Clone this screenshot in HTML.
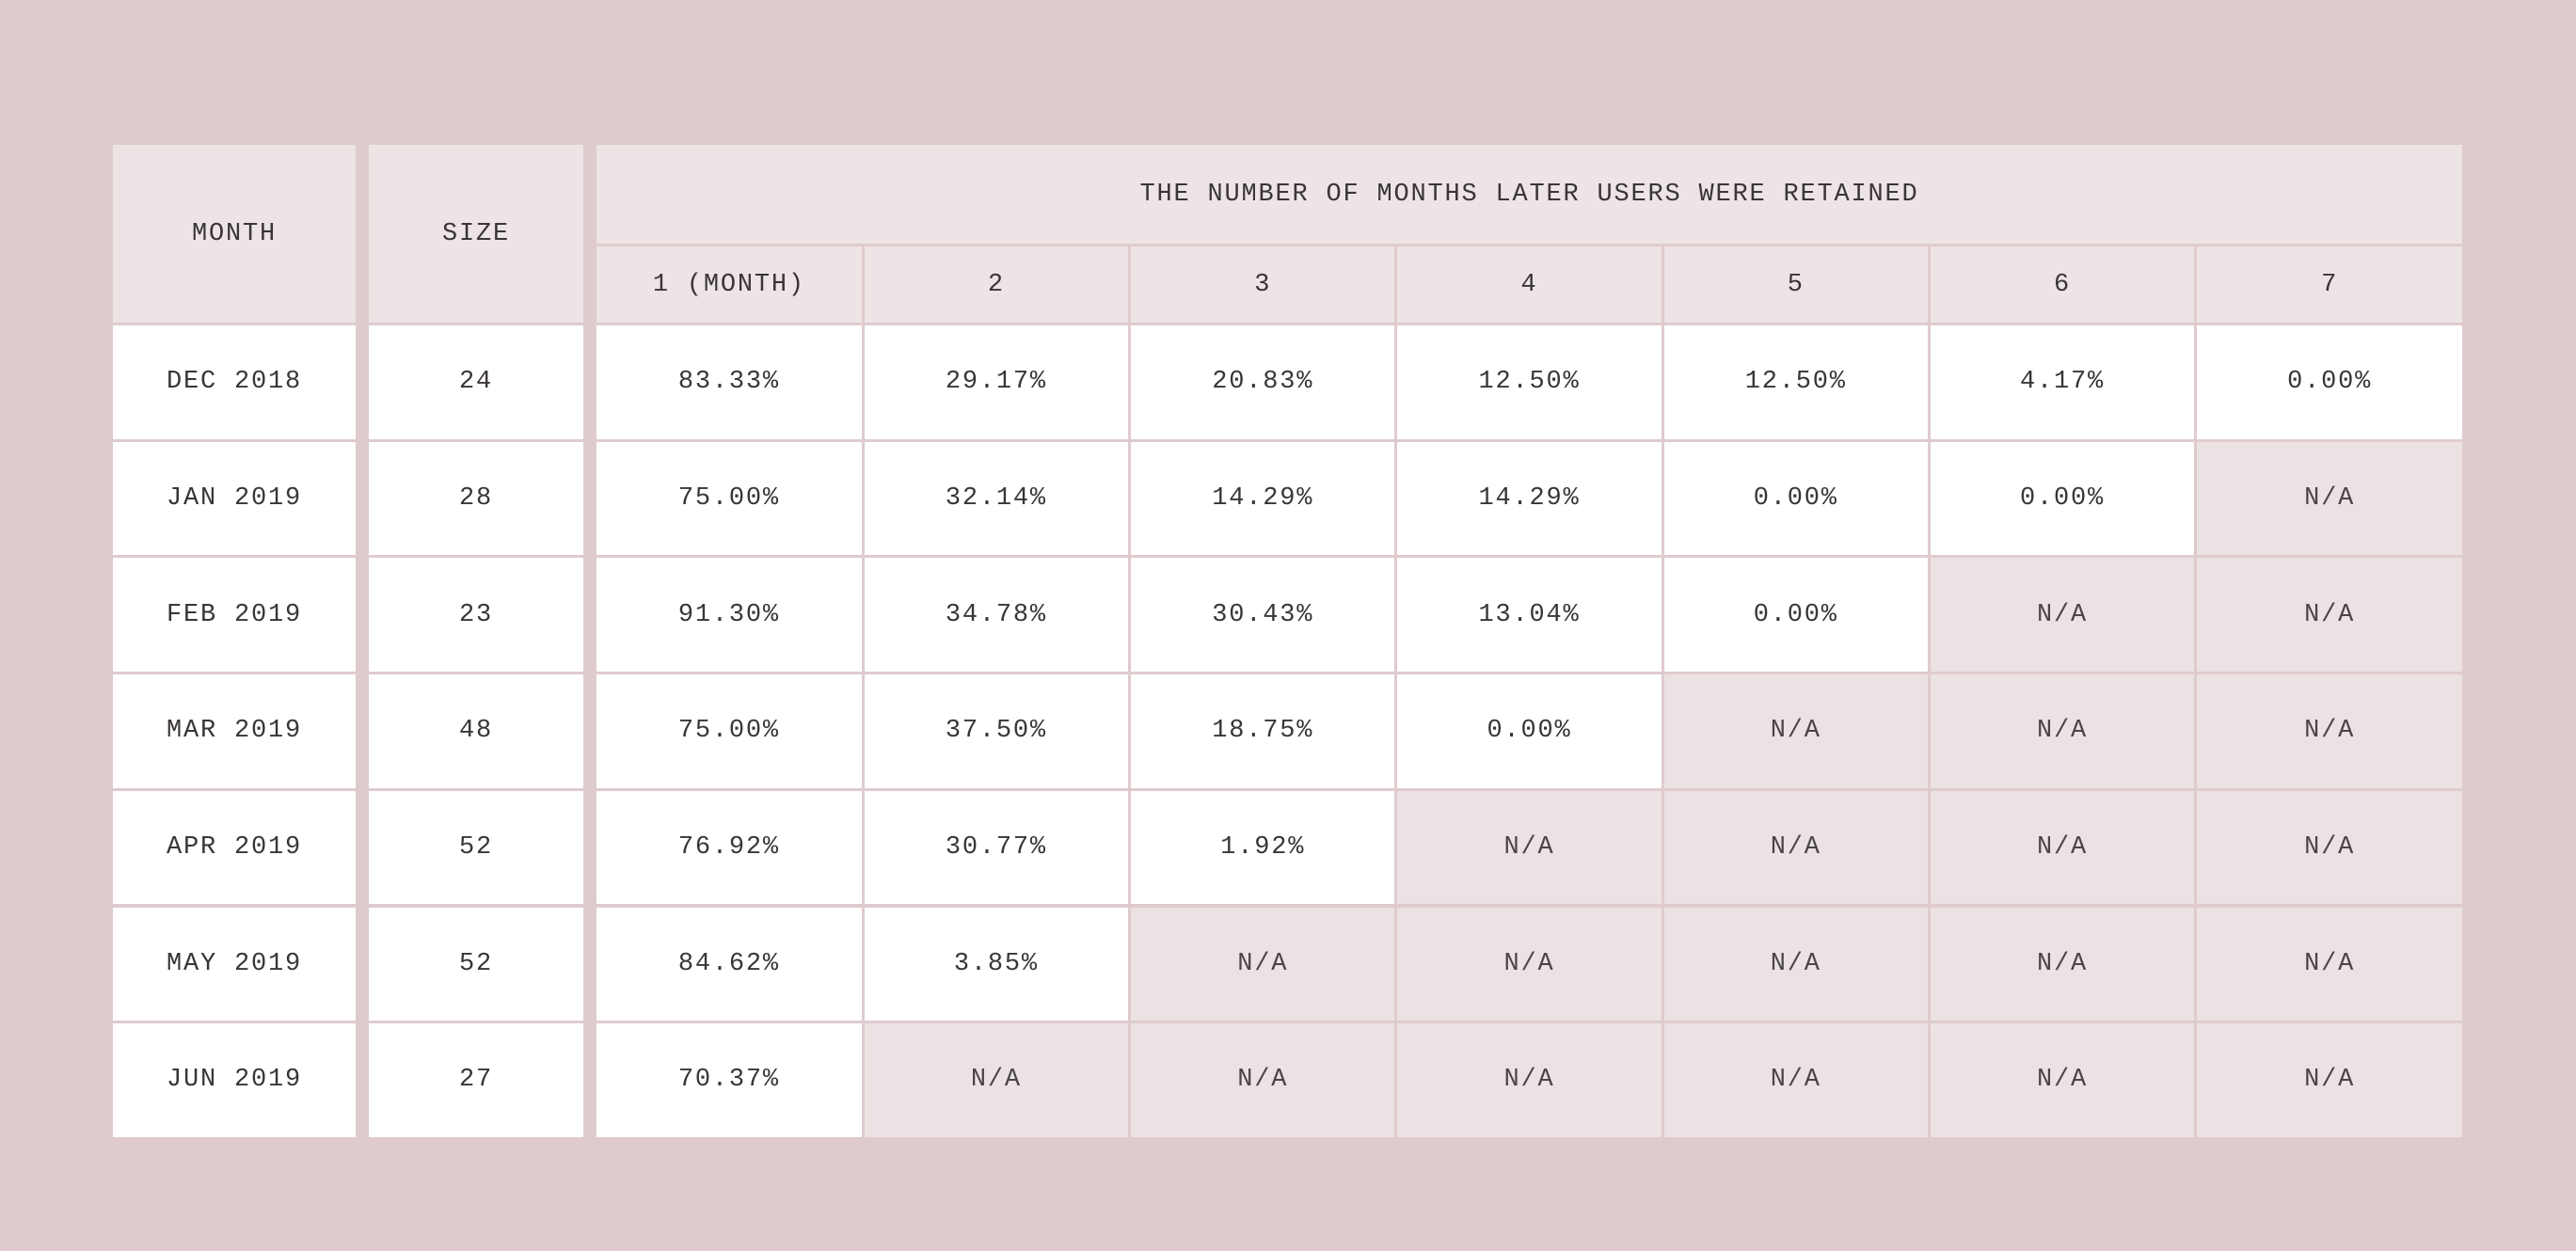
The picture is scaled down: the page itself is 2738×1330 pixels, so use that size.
<!DOCTYPE html>
<html><head><meta charset="utf-8"><style>
html,body{margin:0;padding:0}
body{width:2738px;height:1330px;background:#dfcbce;position:relative;overflow:hidden;font-family:"Liberation Mono",monospace}
.c{position:absolute;display:flex;align-items:center;justify-content:center;font-size:27px;letter-spacing:1.8px;color:#3a3536;box-sizing:border-box}
.h{background:#ede4e5}
.w{background:#ffffff}
.n{background:#ece2e3;color:#4a4546}
</style></head><body>
<div id="tbl"></div>
<script>
const months=["DEC 2018","JAN 2019","FEB 2019","MAR 2019","APR 2019","MAY 2019","JUN 2019"];
const sizes=[24,28,23,48,52,52,27];
const colLabels=["1 (MONTH)","2","3","4","5","6","7"];
const r1=[83.33,29.17,20.83,12.50,12.50,4.17,0.00];
const r2=[75.00,32.14,14.29,14.29,0.00,0.00];
const r3=[91.30,34.78,30.43,13.04,0.00];
const r4=[75.00,37.50,18.75,0.00];
const r5=[76.92,30.77,1.92];
const r6=[84.62,3.85];
const r7=[70.37];
const rows=[r1,r2,r3,r4,r5,r6,r7];

const T=document.getElementById('tbl');
function cell(x,y,w,h,cls,txt,name){
  const d=document.createElement('div');
  d.className='c '+cls;
  d.style.left=x+'px';d.style.top=y+'px';d.style.width=w+'px';d.style.height=h+'px';
  d.textContent=txt;
  
  
  T.appendChild(d);
  return d;
}
const top0=154, hdrBot=343, subTop=262, titleBot=259;
const rowTop=346, pitch=123.7, rowH=120.5;
const mX=120,mW=258,sX=392,sW=228,dX=634,dEnd=2617;
const cw=(dEnd-dX)/7;
cell(mX,top0,mW,hdrBot-top0,'h','MONTH','month-header');
cell(sX,top0,sW,hdrBot-top0,'h','SIZE','size-header');
cell(dX,top0,dEnd-dX,titleBot-top0,'h','THE NUMBER OF MONTHS LATER USERS WERE RETAINED','retained-title-header');
colLabels.forEach((l,i)=>{
  const x=dX+i*cw+(i>0?1.5:0);
  cell(x,subTop,cw-(i>0?1.5:0)-(i<6?1.5:0),hdrBot-subTop,'h',l,'col-header-'+(i+1));
});
months.forEach((m,r)=>{
  const y=rowTop+r*pitch;
  cell(mX,y,mW,rowH,'w',m,'month-cell-'+(r+1));
  cell(sX,y,sW,rowH,'w',String(sizes[r]),'size-cell-'+(r+1));
  for(let i=0;i<7;i++){
    const x=dX+i*cw+(i>0?1.5:0);
    const w=cw-(i>0?1.5:0)-(i<6?1.5:0);
    const v=rows[r][i];
    if(v!==undefined) cell(x,y,w,rowH,'w',v.toFixed(2)+'%','retention-cell-r'+(r+1)+'-c'+(i+1));
    else cell(x,y,w,rowH,'n','N/A','na-cell-r'+(r+1)+'-c'+(i+1));
  }
});
</script>
</body></html>
